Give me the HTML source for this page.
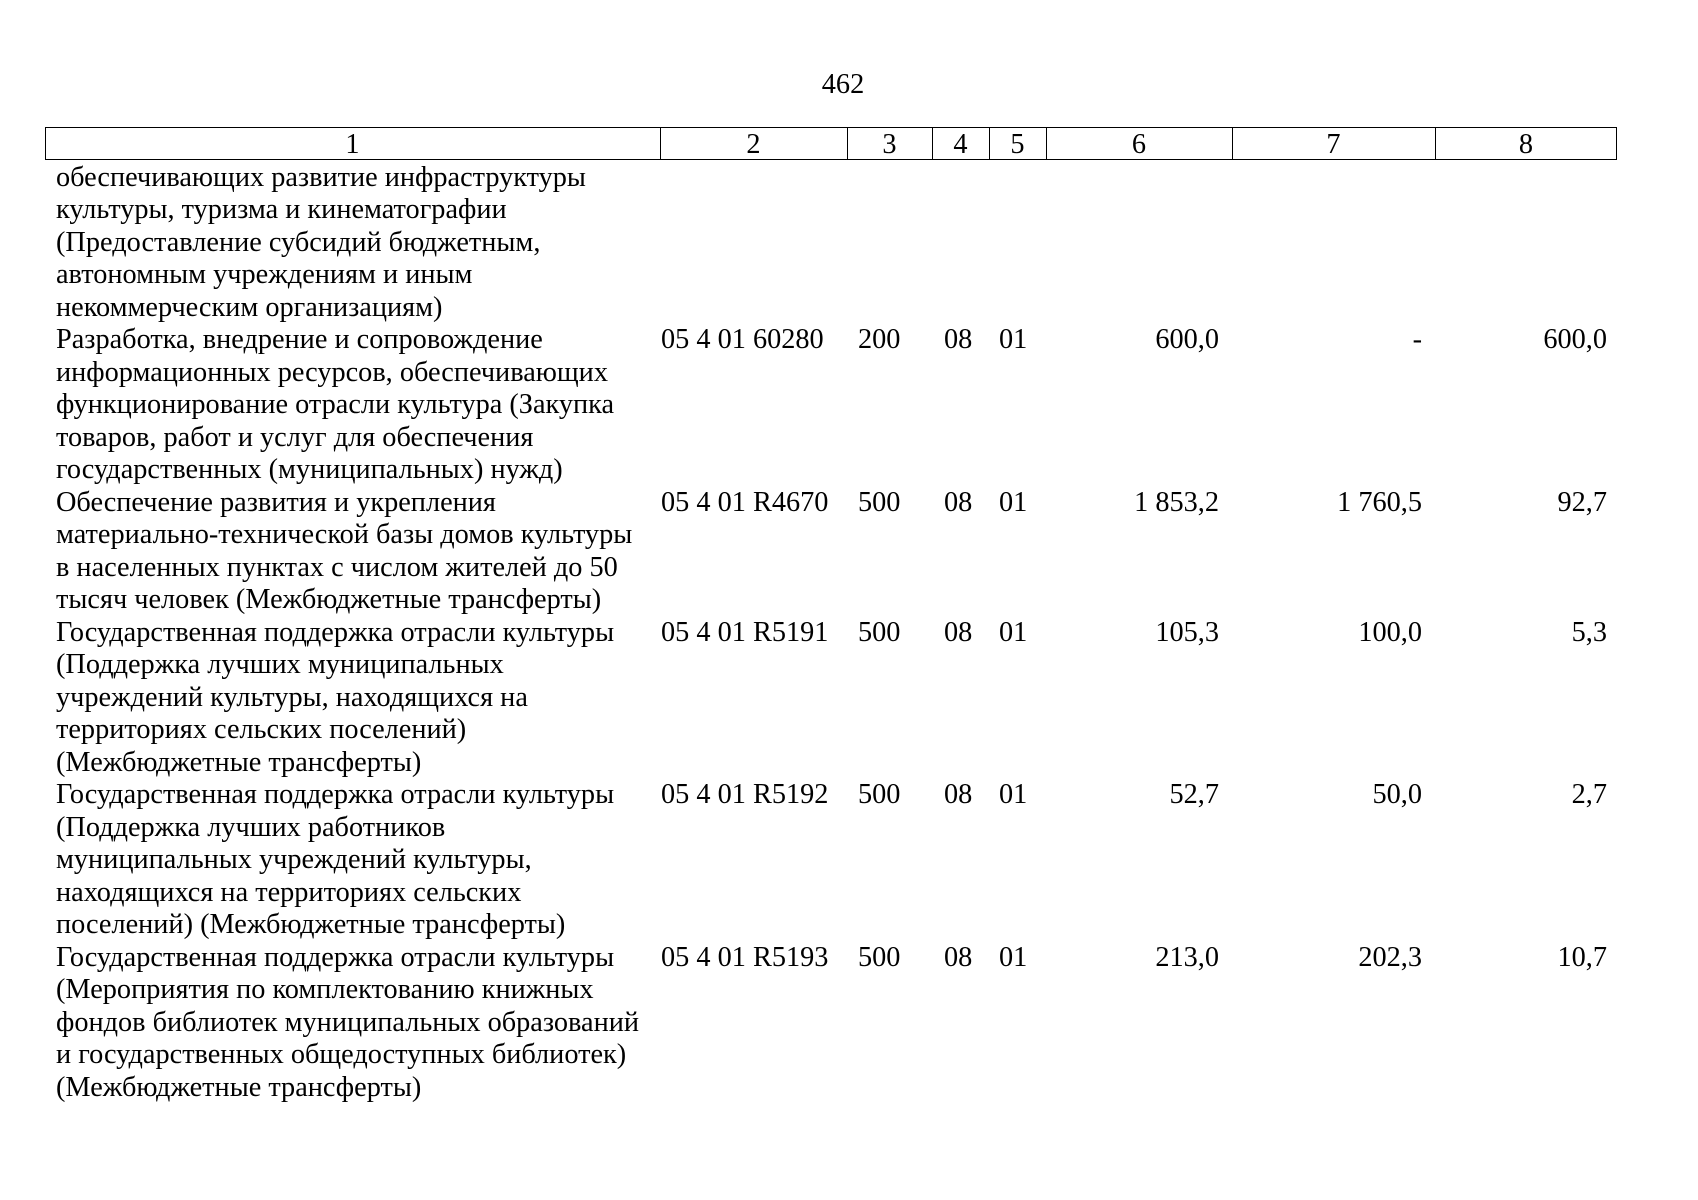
<!DOCTYPE html>
<html><head><meta charset="utf-8"><style>
body{margin:0;background:#fff;}
#p{position:relative;width:1698px;height:1200px;overflow:hidden;font-family:"Liberation Serif",serif;font-size:28.3px;color:#000;}
.l{position:absolute;white-space:nowrap;line-height:32.5px;height:32.5px;}
.r{text-align:right;}
.v{position:absolute;top:127px;height:33px;border-left:1.5px solid #000;}
.h{position:absolute;top:128px;height:33px;line-height:33px;text-align:center;}
</style></head><body><div id="p">
<div class="l" style="left:0;width:1686px;text-align:center;top:69px">462</div>
<div style="position:absolute;left:45px;top:127px;width:1570px;height:31px;border:1.5px solid #000;"></div>
<div class="v" style="left:660px"></div><div class="v" style="left:847px"></div><div class="v" style="left:932px"></div><div class="v" style="left:989px"></div><div class="v" style="left:1046px"></div><div class="v" style="left:1232px"></div><div class="v" style="left:1435px"></div>
<div class="h" style="left:45px;width:615px">1</div><div class="h" style="left:660px;width:187px">2</div><div class="h" style="left:847px;width:85px">3</div><div class="h" style="left:932px;width:57px">4</div><div class="h" style="left:989px;width:57px">5</div><div class="h" style="left:1046px;width:186px">6</div><div class="h" style="left:1232px;width:203px">7</div><div class="h" style="left:1435px;width:182px">8</div>
<div id="c"></div>
</div>
<script>
var L=["обеспечивающих развитие инфраструктуры","культуры, туризма и кинематографии","(Предоставление субсидий бюджетным,","автономным учреждениям и иным","некоммерческим организациям)",
"Разработка, внедрение и сопровождение","информационных ресурсов, обеспечивающих","функционирование отрасли культура (Закупка","товаров, работ и услуг для обеспечения","государственных (муниципальных) нужд)",
"Обеспечение развития и укрепления","материально-технической базы домов культуры","в населенных пунктах с числом жителей до 50","тысяч человек (Межбюджетные трансферты)",
"Государственная поддержка отрасли культуры","(Поддержка лучших муниципальных","учреждений культуры, находящихся на","территориях сельских поселений)","(Межбюджетные трансферты)",
"Государственная поддержка отрасли культуры","(Поддержка лучших работников","муниципальных учреждений культуры,","находящихся на территориях сельских","поселений) (Межбюджетные трансферты)",
"Государственная поддержка отрасли культуры","(Мероприятия по комплектованию книжных","фондов библиотек муниципальных образований","и государственных общедоступных библиотек)","(Межбюджетные трансферты)"];
var R=[[5,"05 4 01 60280","200","600,0","-","600,0"],[10,"05 4 01 R4670","500","1 853,2","1 760,5","92,7"],[14,"05 4 01 R5191","500","105,3","100,0","5,3"],[19,"05 4 01 R5192","500","52,7","50,0","2,7"],[24,"05 4 01 R5193","500","213,0","202,3","10,7"]];
var h="";function t(i){return 161.5+32.5*i;}
L.forEach(function(s,i){h+='<div class="l" style="left:56px;top:'+t(i)+'px">'+s+'</div>';});
R.forEach(function(r){var y=t(r[0]);
h+='<div class="l" style="left:661px;top:'+y+'px">'+r[1]+'</div>';
h+='<div class="l" style="left:858px;top:'+y+'px">'+r[2]+'</div>';
h+='<div class="l" style="left:944px;top:'+y+'px">08</div>';
h+='<div class="l" style="left:999px;top:'+y+'px">01</div>';
h+='<div class="l r" style="left:1019px;width:200px;top:'+y+'px">'+r[3]+'</div>';
h+='<div class="l r" style="left:1222px;width:200px;top:'+y+'px">'+r[4]+'</div>';
h+='<div class="l r" style="left:1407px;width:200px;top:'+y+'px">'+r[5]+'</div>';});
document.getElementById("c").innerHTML=h;
</script>
</body></html>
